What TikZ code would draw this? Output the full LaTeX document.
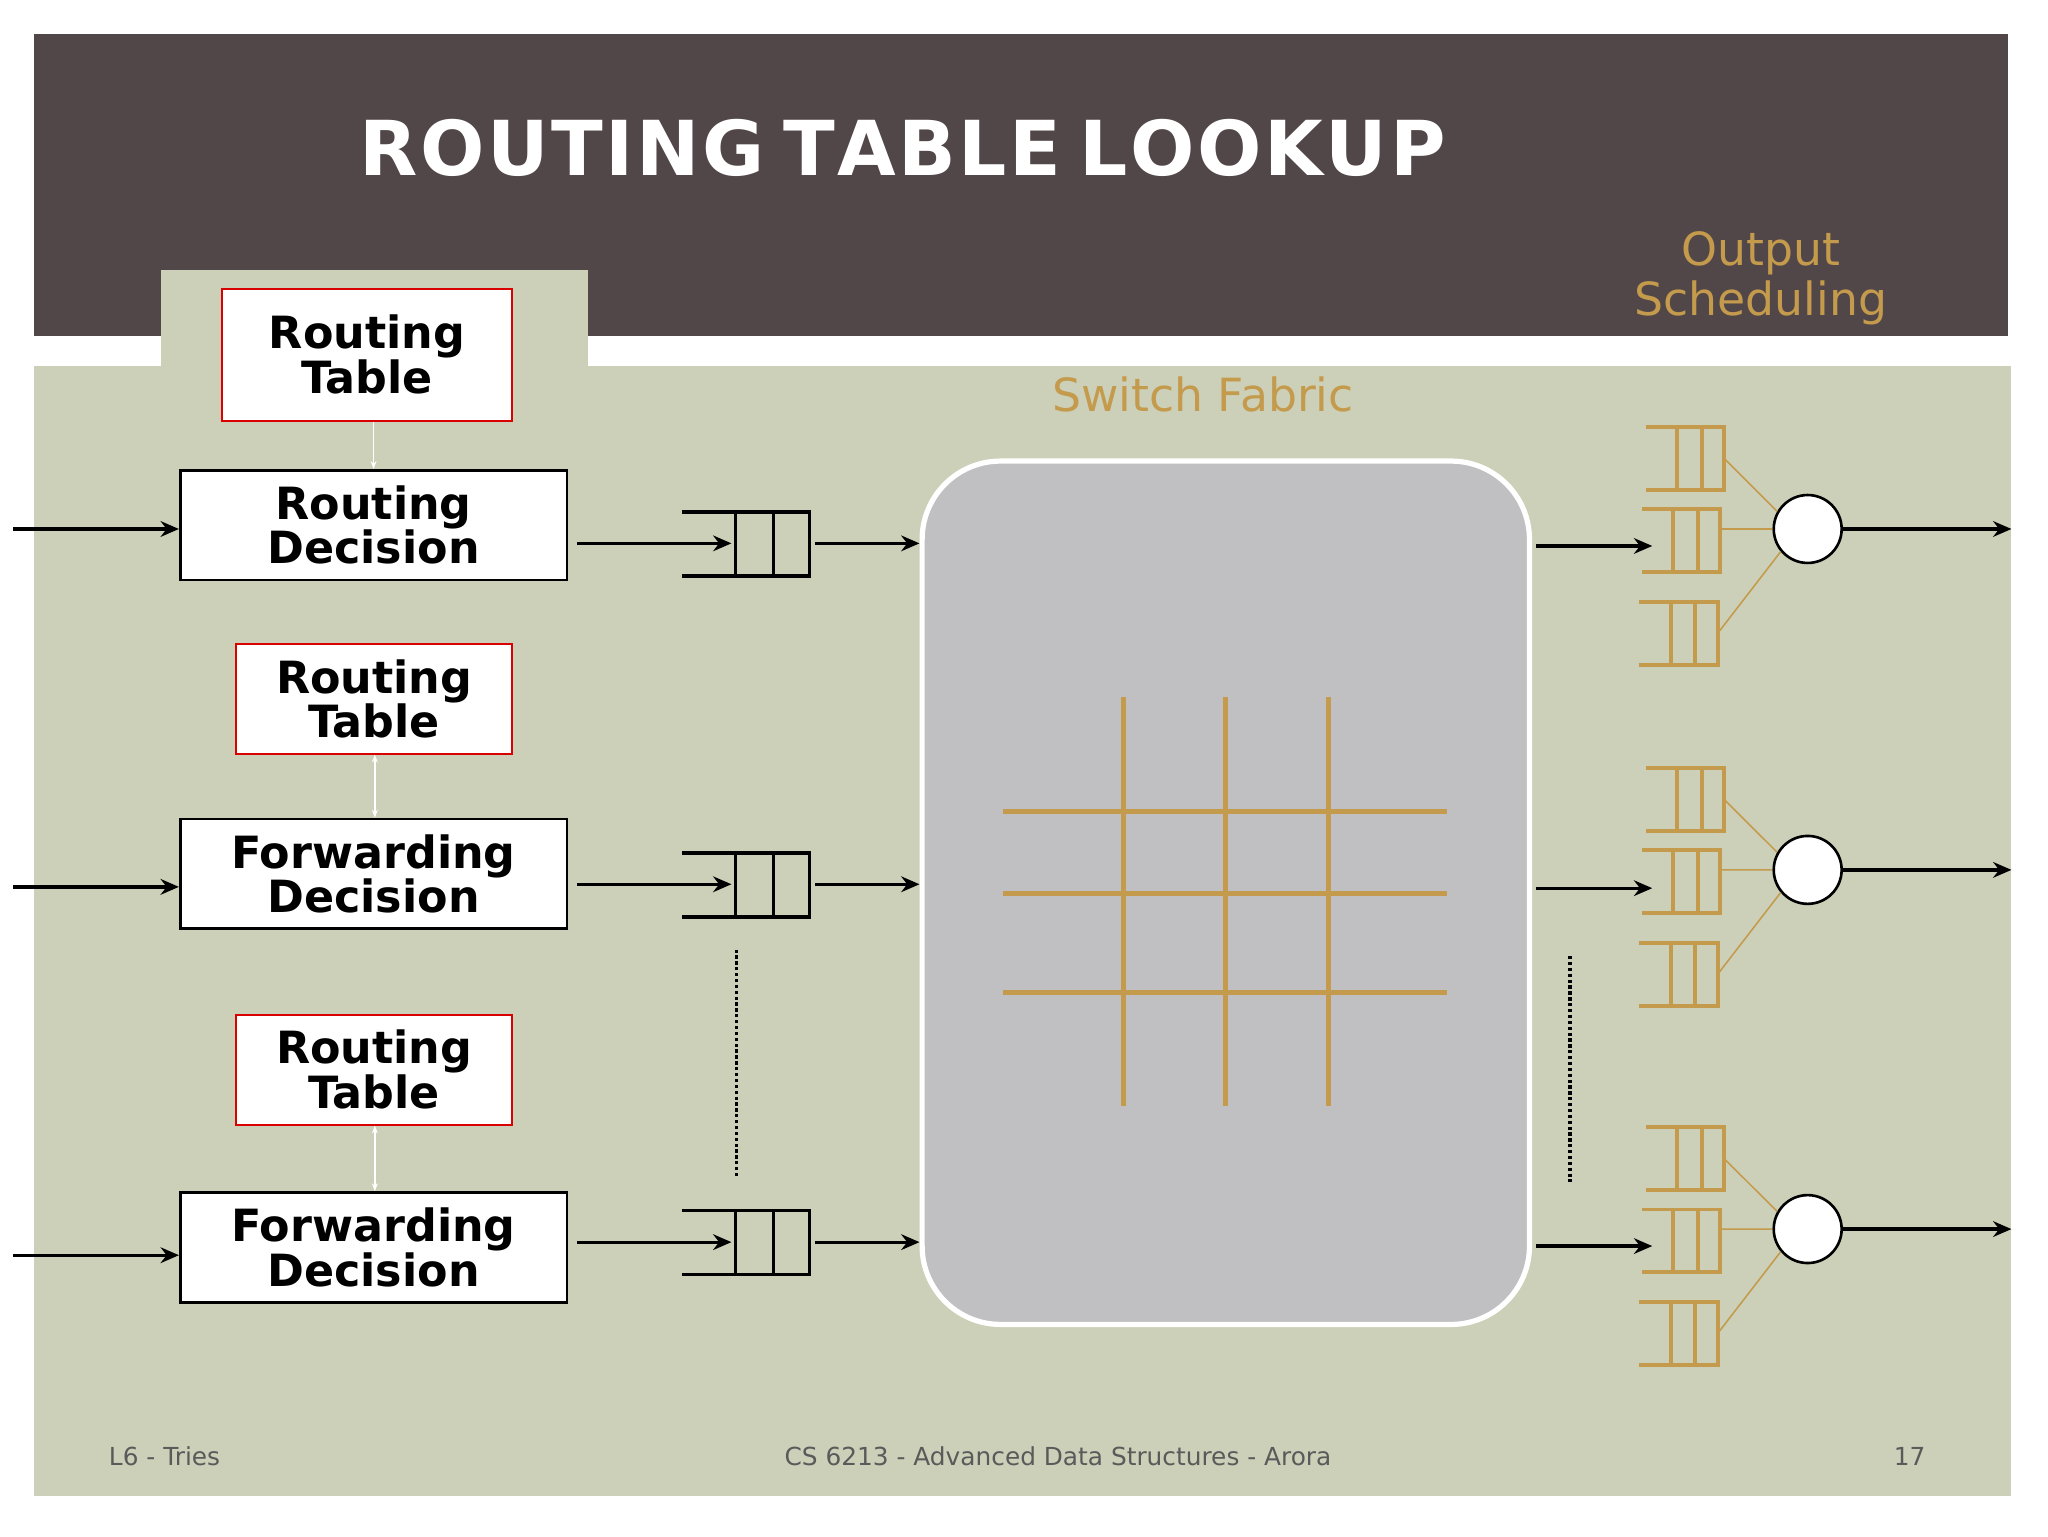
\documentclass[tikz,border=0pt]{standalone}
\usepackage{fontspec}
\setmainfont{DejaVu Sans}
\usetikzlibrary{arrows.meta}
\definecolor{hdr}{HTML}{524748}
\definecolor{bg}{HTML}{CDD0B8}
\definecolor{gold}{HTML}{C49A4C}
\definecolor{sw}{HTML}{C0BFC2}
\definecolor{foot}{HTML}{5A5A5A}
\tikzset{
 box/.style={draw=black,line width=2pt,fill=white,align=center,font=\fontsize{34}{31}\selectfont\bfseries,inner sep=0pt},
 rtbox/.style={box,draw=red!85!black,line width=1.5pt},
 arr/.style={-{Stealth[length=14pt,width=12pt]},line width=2.5pt},
 ql/.style={line width=2.5pt},
 gq/.style={gold,line width=3pt},
 wa/.style={{Stealth[length=6pt]}-{Stealth[length=6pt]},white,line width=1pt},
}
\begin{document}
\begin{tikzpicture}[x=1pt,y=-1pt]
\useasboundingbox (0,0) rectangle (1568,1176);
\fill[white] (0,0) rectangle (1568,1176);
\fill[hdr] (26,26) rectangle (1537,257);
\fill[bg] (26,280) rectangle (1540,1145);
\fill[bg] (123,207) rectangle (450,282);
\node[white,font=\fontsize{58}{60}\selectfont\bfseries] (title) at (691,113) {R\kern2pt O\kern2pt U\kern2pt T\kern2pt I\kern2pt N\kern2pt G\kern14pt T\kern2pt A\kern2pt B\kern2pt L\kern2pt E\kern14pt L\kern2pt O\kern2pt O\kern2pt K\kern2pt U\kern2pt P};
\node[gold,align=center,font=\fontsize{35}{38}\selectfont] (os) at (1348,213) {Output\\Scheduling};
\node[gold,font=\fontsize{35}{38}\selectfont] (sf) at (921,302) {Switch Fabric};
% left boxes
\node[rtbox,minimum width=222pt,minimum height=101pt] (rt1) at (281,271.5) {Routing\\Table};
\node[box,minimum width=296pt,minimum height=84pt] (d1) at (286,402) {Routing\\Decision};
\node[rtbox,minimum width=211pt,minimum height=84pt] (rt2) at (286.5,535) {Routing\\Table};
\node[box,minimum width=296pt,minimum height=84pt] (d2) at (286,669) {Forwarding\\Decision};
\node[rtbox,minimum width=211pt,minimum height=84pt] (rt3) at (286.5,819) {Routing\\Table};
\node[box,minimum width=296pt,minimum height=84pt] (d3) at (286,955) {Forwarding\\Decision};
\draw[white,line width=1pt,-{Stealth[length=6pt]}] (rt1.south -| 286,0) -- (d1.north -| 286,0);
\draw[wa] (rt2.south -| 287,0) -- (d2.north -| 287,0);
\draw[wa] (rt3.south -| 287,0) -- (d3.north -| 287,0);
% switch
\node[draw=white,line width=4pt,fill=sw,rounded corners=60pt,minimum width=465pt,minimum height=661pt] (fab) at (938.5,683.5) {};
\foreach \x in {860,938,1017} \draw[gold,line width=4pt] (\x,534) -- (\x,847);
\foreach \y in {621,684,760} \draw[gold,line width=4pt] (768,\y) -- (1108,\y);
% rows
\foreach \n/\yi/\ya/\yo/\d in {1/405/416/418/d1,2/679/677/680/d2,3/961/951/954/d3}{
  \coordinate (in\n) at (10,\yi);
  \draw[arr] (in\n) -- (\d.west |- in\n);
  \coordinate (qa\n) at (442,\ya); \coordinate (qb\n) at (560,\ya);
  \draw[arr] (qa\n) -- (qb\n);
  \draw[ql] (522,\ya-24) -- (620,\ya-24) -- (620,\ya+25) -- (522,\ya+25);
  \draw[ql] (563,\ya-24) -- (563,\ya+25) (592,\ya-24) -- (592,\ya+25);
  \coordinate (qo\n) at (624,\ya);
  \draw[arr] (qo\n) -- (fab.west |- qo\n);
  \coordinate (fo\n) at (1176,\yo); \coordinate (oq\n) at (1265,\yo);
  \draw[arr] (fo\n) -- (oq\n);
}
\foreach \n/\c in {1/405,2/666,3/941}{
  \foreach \dy/\xs in {-54/1260,9/1257,80/1255}{
    \draw[gq] (\xs,\c+\dy-24) -- (\xs+60,\c+\dy-24) -- (\xs+60,\c+\dy+24) -- (\xs,\c+\dy+24);
    \draw[gq] (\xs+24,\c+\dy-24) -- (\xs+24,\c+\dy+24) (\xs+43,\c+\dy-24) -- (\xs+43,\c+\dy+24);
  }
  \node[draw=black,line width=2pt,fill=white,circle,minimum size=52pt,inner sep=0pt] (c\n) at (1384,\c) {};
  \draw[gold,line width=1.2pt] (1320,\c-54) -- (c\n.150) (1317,\c) -- (c\n.west) (1315,\c+80) -- (c\n.220);
  \coordinate (out\n) at (1540,\c);
  \draw[arr] (c\n.east) -- (out\n);
}
\draw[line width=2.5pt,dotted] (564,727) -- (564,900);
\draw[line width=2.5pt,dotted] (1202,732) -- (1202,905);
\node[foot,font=\fontsize{19}{22}\selectfont] (f1) at (126,1115) {L6 - Tries};
\node[foot,font=\fontsize{19}{22}\selectfont] (f2) at (810,1115) {CS 6213 - Advanced Data Structures - Arora};
\node[foot,font=\fontsize{19}{22}\selectfont] (f3) at (1462,1115) {17};
\end{tikzpicture}
\end{document}
